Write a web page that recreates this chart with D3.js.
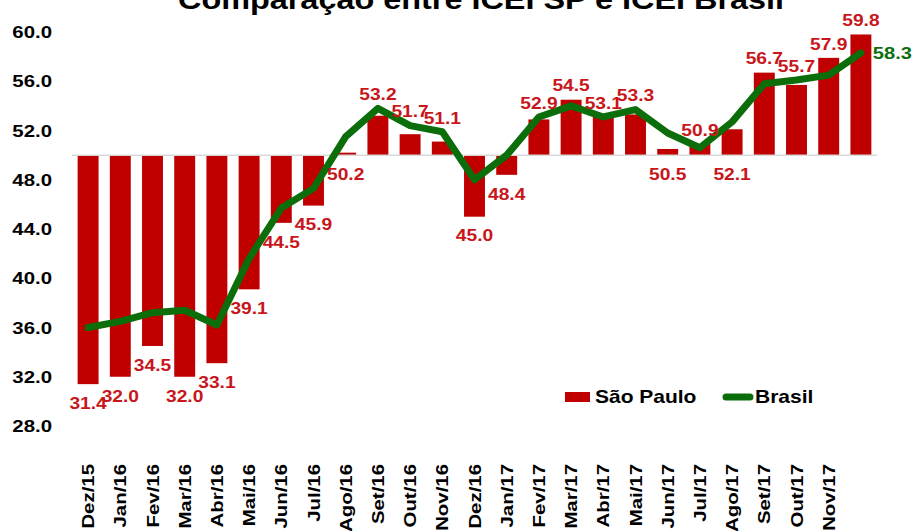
<!DOCTYPE html>
<html>
<head>
<meta charset="utf-8">
<script src="https://cdn.jsdelivr.net/npm/d3@7"></script>
<style>
  body { margin: 0; background: #fff; }
  svg text { font-family: "Liberation Sans", Arial, sans-serif; font-weight: bold; }
</style>
</head>
<body>
<div class="chart"></div>
<script>
var categories = ["Dez/15","Jan/16","Fev/16","Mar/16","Abr/16","Mai/16","Jun/16","Jul/16","Ago/16","Set/16","Out/16","Nov/16",
  "Dez/16","Jan/17","Fev/17","Mar/17","Abr/17","Mai/17","Jun/17","Jul/17","Ago/17","Set/17","Out/17","Nov/17","Dez/17"];
// last label is not shown in the original
var tickLabels = ["Dez/15","Jan/16","Fev/16","Mar/16","Abr/16","Mai/16","Jun/16","Jul/16","Ago/16","Set/16","Out/16","Nov/16",
  "Dez/16","Jan/17","Fev/17","Mar/17","Abr/17","Mai/17","Jun/17","Jul/17","Ago/17","Set/17","Out/17","Nov/17",""];
var saoPaulo = [31.4,32.0,34.5,32.0,33.1,39.1,44.5,45.9,50.2,53.2,51.7,51.1,45.0,48.4,52.9,54.5,53.1,53.3,50.5,50.9,52.1,56.7,55.7,57.9,59.8];
var brasil = [36.0,36.5,37.2,37.4,36.2,41.6,45.7,47.3,51.5,53.8,52.4,51.9,48.0,50.0,53.1,54.0,53.1,53.7,51.8,50.6,52.7,55.8,56.1,56.5,58.3];
// where each São Paulo label sits
var spLabelSide = ["b","b","b","b","b","b","b","b","b","a","a","a","b","b","a","a","a","a","b","a","b","a","a","a","a"];
var yTicks = [28,32,36,40,44,48,52,56,60];
var baseValue = 50;

var width = 914, height = 531;
var red = "#C00000", redText = "#C8161B", green = "#0B6E0B";

var svg = d3.select(".chart").append("svg")
    .attr("width", width)
    .attr("height", height);

var x = d3.scaleBand()
    .domain(categories)
    .range([72, 877])
    .paddingInner(0.35)
    .paddingOuter(0.175);

var y = d3.scaleLinear()
    .domain([28, 60])
    .range([426, 32]);

// title (cut off at the top in the original)
svg.append("text")
    .attr("transform", "translate(481,9) scale(1.2,1)")
    .attr("text-anchor", "middle")
    .style("font-size", "27px")
    .attr("fill", "#000")
    .text("Comparação entre ICEI SP e ICEI Brasil");

// y axis labels, no line
var yAxis = svg.append("g").attr("class", "y-axis");
yAxis.selectAll("text")
    .data(yTicks)
  .enter().append("text")
    .attr("transform", function(d){ return "translate(52," + y(d) + ") scale(1.2,1)"; })
    .attr("dy", "0.36em")
    .attr("text-anchor", "end")
    .style("font-size", "17px")
    .text(function(d){ return d3.format(".1f")(d); });

// x axis labels, rotated
var xAxis = svg.append("g").attr("class", "x-axis");
xAxis.selectAll("text")
    .data(categories)
  .enter().append("text")
    .attr("transform", function(d){ return "translate(" + (x(d) + x.bandwidth()/2 + 6) + ",464) rotate(-90) scale(1.2,1)"; })
    .attr("text-anchor", "end")
    .style("font-size", "17px")
    .text(function(d, i){ return tickLabels[i]; });

// bars grow from 50
svg.append("g").selectAll("rect")
    .data(saoPaulo)
  .enter().append("rect")
    .attr("x", function(d, i){ return x(categories[i]); })
    .attr("y", function(d){ return Math.min(y(d), y(baseValue)); })
    .attr("width", x.bandwidth())
    .attr("height", function(d){ return Math.abs(y(d) - y(baseValue)); })
    .attr("fill", red);

// baseline at 50
svg.append("line")
    .attr("x1", 72).attr("x2", 877)
    .attr("y1", y(baseValue)).attr("y2", y(baseValue))
    .style("stroke", "#d9d9d9")
    .style("stroke-width", 1.5);

// Brasil line
var line = d3.line()
    .x(function(d, i){ return x(categories[i]) + x.bandwidth()/2; })
    .y(function(d){ return y(d); });

svg.append("path")
    .datum(brasil)
    .attr("d", line)
    .attr("fill", "none")
    .style("stroke", green)
    .style("stroke-width", 7)
    .style("stroke-linejoin", "round")
    .style("stroke-linecap", "round");

// São Paulo labels
svg.append("g").selectAll("text")
    .data(saoPaulo)
  .enter().append("text")
    .attr("transform", function(d, i){
      var cx = x(categories[i]) + x.bandwidth()/2;
      var cy;
      if (spLabelSide[i] == "a") cy = Math.min(y(d), y(brasil[i]), y(baseValue)) - 14;
      else cy = Math.max(y(d), y(baseValue)) + 19;
      return "translate(" + cx + "," + cy + ") scale(1.2,1)";
    })
    .attr("dy", "0.36em")
    .attr("text-anchor", "middle")
    .style("font-size", "16px")
    .attr("fill", redText)
    .text(function(d){ return d3.format(".1f")(d); });

// only the last Brasil value is labelled
var last = brasil.length - 1;
svg.append("text")
    .attr("transform", "translate(" + (x(categories[last]) + x.bandwidth() + 1.5) + "," + y(brasil[last]) + ") scale(1.18,1)")
    .attr("dy", "0.36em")
    .style("font-size", "17px")
    .attr("fill", green)
    .text(d3.format(".1f")(brasil[last]));

// legend
var legend = svg.append("g").attr("class", "legend");
legend.append("rect")
    .attr("x", 565).attr("y", 392)
    .attr("width", 25).attr("height", 10)
    .attr("fill", red);
legend.append("text")
    .attr("transform", "translate(595,403) scale(1.2,1)")
    .style("font-size", "17.5px")
    .text("São Paulo");
legend.append("line")
    .attr("x1", 726).attr("x2", 750)
    .attr("y1", 397).attr("y2", 397)
    .style("stroke", green)
    .style("stroke-width", 7)
    .style("stroke-linecap", "round");
legend.append("text")
    .attr("transform", "translate(755,403) scale(1.2,1)")
    .style("font-size", "17.5px")
    .text("Brasil");
</script>
</body>
</html>
